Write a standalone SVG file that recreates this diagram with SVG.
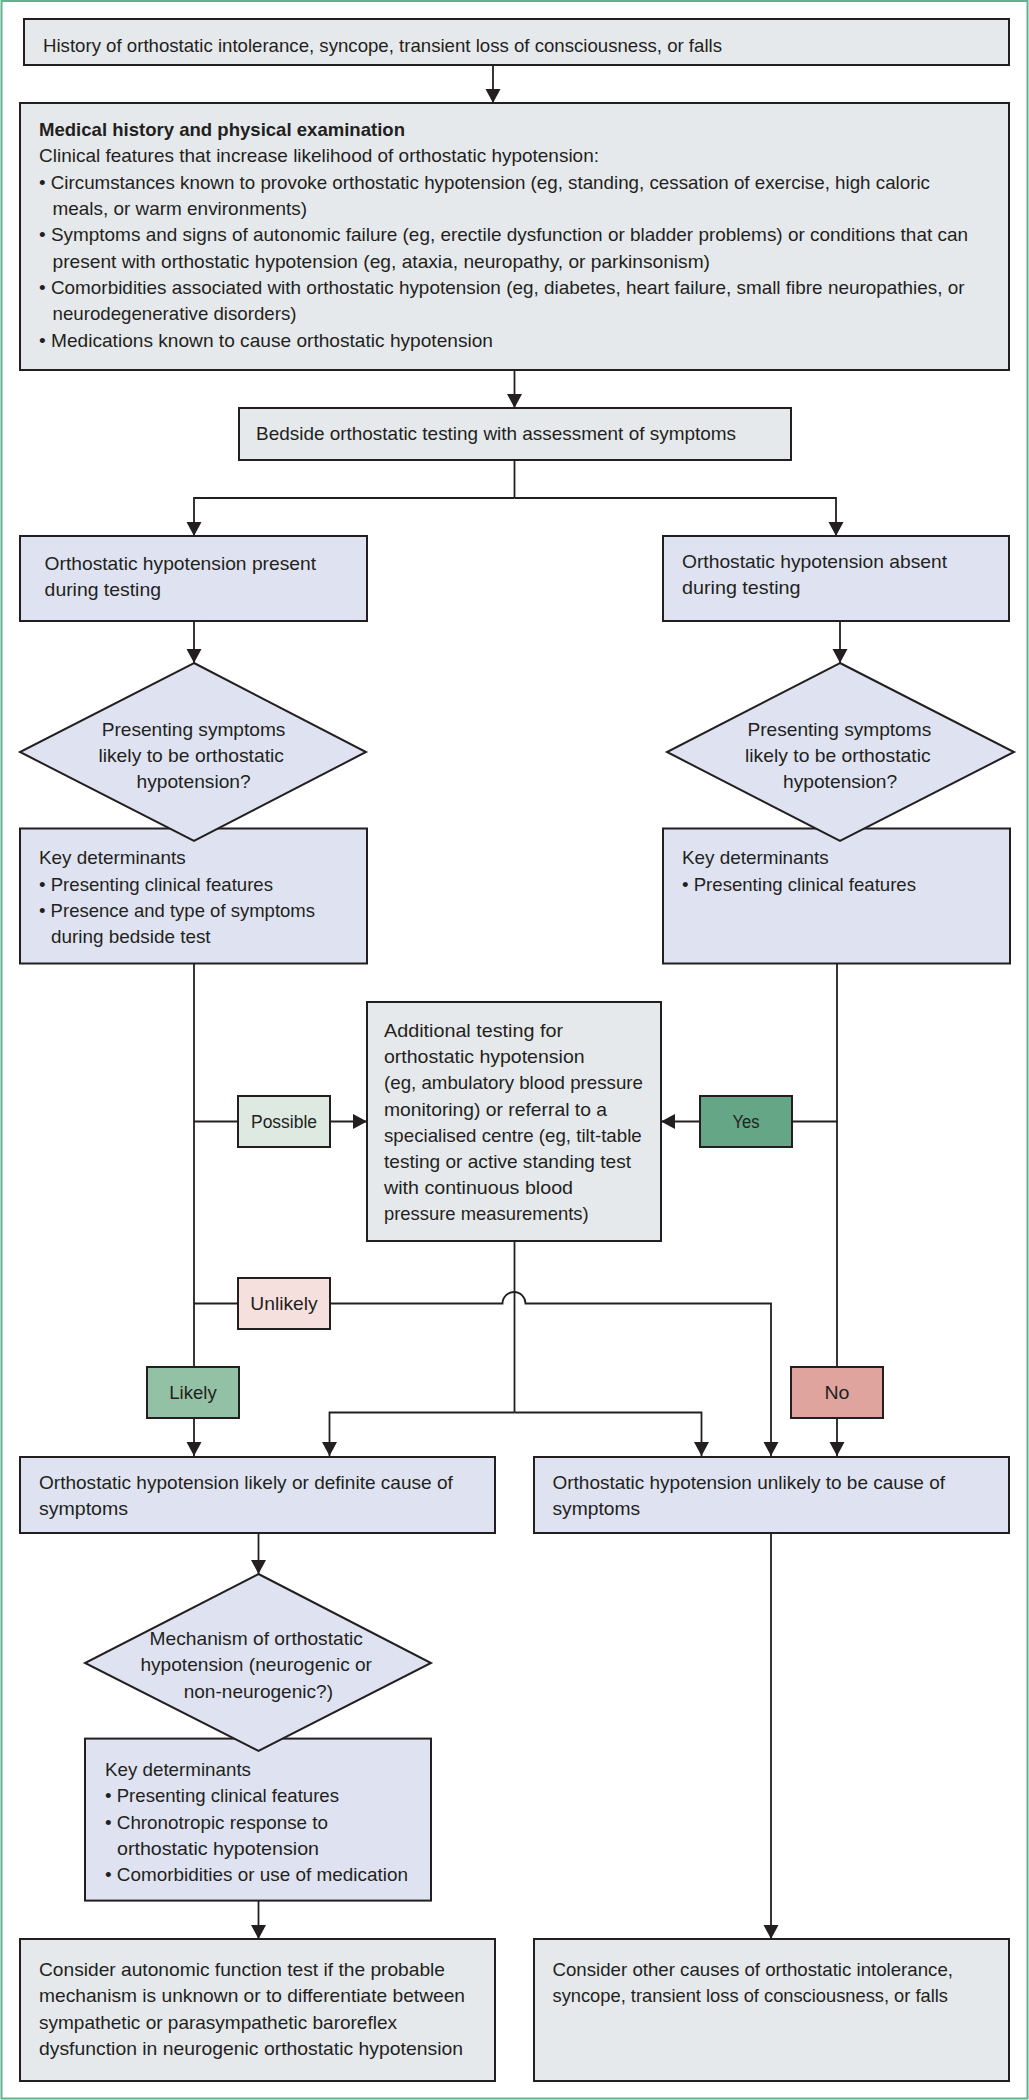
<svg xmlns="http://www.w3.org/2000/svg" width="1029" height="2100" viewBox="0 0 1029 2100">
<style>
text{font-family:"Liberation Sans",Arial,sans-serif;font-size:19px;fill:#231f20}
.b{font-weight:bold}
.m{text-anchor:middle}
.box{stroke:#231f20;stroke-width:2}
.gray{fill:#e6e9ec}
.blue{fill:#dfe3f1}
.possible{fill:#dde9e1}
.yes{fill:#65a687}
.unlikely{fill:#f6e0de}
.likely{fill:#93c1a6}
.no{fill:#dfa49e}
.c{fill:none;stroke:#231f20;stroke-width:1.8}
.a{marker-end:url(#ah)}
</style>
<defs>
<marker id="ah" markerUnits="userSpaceOnUse" markerWidth="16" markerHeight="16" viewBox="0 0 16 16" refX="14" refY="7.5" orient="auto">
<path d="M0,0 L14,7.5 L0,15 z" fill="#231f20"/>
</marker>
</defs>
<rect x="0" y="0" width="1029" height="2100" fill="#ffffff"/>
<rect x="1.5" y="1" width="1026" height="2097.5" fill="none" stroke="#63b28f" stroke-width="2"/>

<g id="n-history">
<rect class="box gray" x="24" y="19" width="985" height="46"/>
<text x="43" y="52" textLength="679" lengthAdjust="spacingAndGlyphs">History of orthostatic intolerance, syncope, transient loss of consciousness, or falls</text>
</g>

<g id="n-medical">
<rect class="box gray" x="20" y="103" width="989" height="267"/>
<text class="b" x="39" y="136" textLength="366" lengthAdjust="spacingAndGlyphs">Medical history and physical examination</text>
<text x="39" y="162.3" textLength="560" lengthAdjust="spacingAndGlyphs">Clinical features that increase likelihood of orthostatic hypotension:</text>
<text x="39" y="188.6" textLength="891" lengthAdjust="spacingAndGlyphs">• Circumstances known to provoke orthostatic hypotension (eg, standing, cessation of exercise, high caloric</text>
<text x="52.5" y="215" textLength="254.5" lengthAdjust="spacingAndGlyphs">meals, or warm environments)</text>
<text x="39" y="241.3" textLength="929" lengthAdjust="spacingAndGlyphs">• Symptoms and signs of autonomic failure (eg, erectile dysfunction or bladder problems) or conditions that can</text>
<text x="52.5" y="267.6" textLength="657.5" lengthAdjust="spacingAndGlyphs">present with orthostatic hypotension (eg, ataxia, neuropathy, or parkinsonism)</text>
<text x="39" y="294" textLength="925.6" lengthAdjust="spacingAndGlyphs">• Comorbidities associated with orthostatic hypotension (eg, diabetes, heart failure, small fibre neuropathies, or</text>
<text x="52.5" y="320.3" textLength="244" lengthAdjust="spacingAndGlyphs">neurodegenerative disorders)</text>
<text x="39" y="346.7" textLength="454" lengthAdjust="spacingAndGlyphs">• Medications known to cause orthostatic hypotension</text>
</g>

<g id="n-bedside">
<rect class="box gray" x="239" y="408" width="552" height="52"/>
<text x="256" y="439.5" textLength="480" lengthAdjust="spacingAndGlyphs">Bedside orthostatic testing with assessment of symptoms</text>
</g>

<g id="n-present">
<rect class="box blue" x="20" y="536" width="347" height="85"/>
<text x="44.6" y="570" textLength="271.4" lengthAdjust="spacingAndGlyphs">Orthostatic hypotension present</text>
<text x="44.6" y="596" textLength="116.4" lengthAdjust="spacingAndGlyphs">during testing</text>
</g>

<g id="n-absent">
<rect class="box blue" x="663" y="536" width="346" height="85"/>
<text x="682" y="568" textLength="265" lengthAdjust="spacingAndGlyphs">Orthostatic hypotension absent</text>
<text x="682" y="594" textLength="118.5" lengthAdjust="spacingAndGlyphs">during testing</text>
</g>

<g id="n-kd-left">
<rect class="box blue" x="20" y="828.5" width="347" height="135"/>
<text x="39" y="864" textLength="146.7" lengthAdjust="spacingAndGlyphs">Key determinants</text>
<text x="39" y="890.5" textLength="234" lengthAdjust="spacingAndGlyphs">• Presenting clinical features</text>
<text x="39" y="917" textLength="276" lengthAdjust="spacingAndGlyphs">• Presence and type of symptoms</text>
<text x="51" y="943" textLength="159.6" lengthAdjust="spacingAndGlyphs">during bedside test</text>
</g>

<g id="n-kd-right">
<rect class="box blue" x="663" y="828.5" width="347" height="135"/>
<text x="682" y="864" textLength="146.7" lengthAdjust="spacingAndGlyphs">Key determinants</text>
<text x="682" y="890.5" textLength="234" lengthAdjust="spacingAndGlyphs">• Presenting clinical features</text>
</g>

<g id="n-dec-left">
<polygon class="box blue" points="194,663 366,752 194,841 20,752"/>
<text x="101.7" y="736" textLength="183.7" lengthAdjust="spacingAndGlyphs">Presenting symptoms</text>
<text x="98.4" y="762" textLength="185.6" lengthAdjust="spacingAndGlyphs">likely to be orthostatic</text>
<text x="136.5" y="787.5" textLength="114.2" lengthAdjust="spacingAndGlyphs">hypotension?</text>
</g>

<g id="n-dec-right">
<polygon class="box blue" points="840,663 1014,752 840,841 667,752"/>
<text x="747.5" y="736" textLength="183.7" lengthAdjust="spacingAndGlyphs">Presenting symptoms</text>
<text x="745" y="762" textLength="185.6" lengthAdjust="spacingAndGlyphs">likely to be orthostatic</text>
<text x="783" y="787.5" textLength="114.2" lengthAdjust="spacingAndGlyphs">hypotension?</text>
</g>

<g id="n-additional">
<rect class="box gray" x="367" y="1002" width="294" height="239"/>
<text x="384" y="1037" textLength="179" lengthAdjust="spacingAndGlyphs">Additional testing for</text>
<text x="384" y="1063.2" textLength="200.6" lengthAdjust="spacingAndGlyphs">orthostatic hypotension</text>
<text x="384" y="1089.4" textLength="259" lengthAdjust="spacingAndGlyphs">(eg, ambulatory blood pressure</text>
<text x="384" y="1115.6" textLength="223" lengthAdjust="spacingAndGlyphs">monitoring) or referral to a</text>
<text x="384" y="1141.8" textLength="257.7" lengthAdjust="spacingAndGlyphs">specialised centre (eg, tilt-table</text>
<text x="384" y="1168" textLength="247" lengthAdjust="spacingAndGlyphs">testing or active standing test</text>
<text x="384" y="1194.2" textLength="189" lengthAdjust="spacingAndGlyphs">with continuous blood</text>
<text x="384" y="1220.4" textLength="204.6" lengthAdjust="spacingAndGlyphs">pressure measurements)</text>
</g>

<g id="l-possible">
<rect class="box possible" x="238" y="1096" width="92" height="51"/>
<text class="m" x="284" y="1127.5" textLength="66" lengthAdjust="spacingAndGlyphs">Possible</text>
</g>
<g id="l-yes">
<rect class="box yes" x="700" y="1096" width="92" height="51"/>
<text class="m" x="746" y="1127.5" textLength="27" lengthAdjust="spacingAndGlyphs">Yes</text>
</g>
<g id="l-unlikely">
<rect class="box unlikely" x="238" y="1278" width="92" height="51"/>
<text class="m" x="284" y="1310" textLength="67.4" lengthAdjust="spacingAndGlyphs">Unlikely</text>
</g>
<g id="l-likely">
<rect class="box likely" x="147" y="1367" width="92" height="51"/>
<text class="m" x="193" y="1399" textLength="47.5" lengthAdjust="spacingAndGlyphs">Likely</text>
</g>
<g id="l-no">
<rect class="box no" x="791" y="1367" width="92" height="51"/>
<text class="m" x="837" y="1399" textLength="25" lengthAdjust="spacingAndGlyphs">No</text>
</g>

<g id="n-likely-cause">
<rect class="box blue" x="20" y="1457" width="475" height="76"/>
<text x="39" y="1489" textLength="413.8" lengthAdjust="spacingAndGlyphs">Orthostatic hypotension likely or definite cause of</text>
<text x="39" y="1515" textLength="89" lengthAdjust="spacingAndGlyphs">symptoms</text>
</g>

<g id="n-unlikely-cause">
<rect class="box blue" x="534" y="1457" width="475" height="76"/>
<text x="552.5" y="1489" textLength="392.5" lengthAdjust="spacingAndGlyphs">Orthostatic hypotension unlikely to be cause of</text>
<text x="552.5" y="1515" textLength="87.5" lengthAdjust="spacingAndGlyphs">symptoms</text>
</g>

<g id="n-kd-mech">
<rect class="box blue" x="85" y="1738.6" width="346" height="162"/>
<text x="105" y="1776" textLength="146" lengthAdjust="spacingAndGlyphs">Key determinants</text>
<text x="105" y="1802" textLength="234" lengthAdjust="spacingAndGlyphs">• Presenting clinical features</text>
<text x="105" y="1828.6" textLength="223" lengthAdjust="spacingAndGlyphs">• Chronotropic response to</text>
<text x="117" y="1854.5" textLength="202" lengthAdjust="spacingAndGlyphs">orthostatic hypotension</text>
<text x="105" y="1881" textLength="303" lengthAdjust="spacingAndGlyphs">• Comorbidities or use of medication</text>
</g>

<g id="n-dec-mech">
<polygon class="box blue" points="258.5,1574 431,1663 258.5,1751 85,1663"/>
<text x="149.6" y="1645" textLength="213.3" lengthAdjust="spacingAndGlyphs">Mechanism of orthostatic</text>
<text x="140.4" y="1671" textLength="231.6" lengthAdjust="spacingAndGlyphs">hypotension (neurogenic or</text>
<text x="183.7" y="1698" textLength="149.3" lengthAdjust="spacingAndGlyphs">non-neurogenic?)</text>
</g>

<g id="n-autonomic">
<rect class="box gray" x="20" y="1939" width="475" height="142"/>
<text x="39" y="1976" textLength="406" lengthAdjust="spacingAndGlyphs">Consider autonomic function test if the probable</text>
<text x="39" y="2002" textLength="426" lengthAdjust="spacingAndGlyphs">mechanism is unknown or to differentiate between</text>
<text x="39" y="2028.6" textLength="358" lengthAdjust="spacingAndGlyphs">sympathetic or parasympathetic baroreflex</text>
<text x="39" y="2054.5" textLength="424" lengthAdjust="spacingAndGlyphs">dysfunction in neurogenic orthostatic hypotension</text>
</g>

<g id="n-other">
<rect class="box gray" x="534" y="1939" width="475" height="142"/>
<text x="552.5" y="1976" textLength="400.5" lengthAdjust="spacingAndGlyphs">Consider other causes of orthostatic intolerance,</text>
<text x="552.5" y="2002" textLength="395.5" lengthAdjust="spacingAndGlyphs">syncope, transient loss of consciousness, or falls</text>
</g>

<g id="connectors">
<path class="c a" d="M493,65 V103"/>
<path class="c a" d="M514.5,370 V408"/>
<path class="c" d="M514.5,460 V498"/>
<path class="c a" d="M514.5,498 H194 V536"/>
<path class="c a" d="M514.5,498 H836 V536"/>
<path class="c a" d="M194,621 V663"/>
<path class="c a" d="M840,621 V663"/>
<path class="c" d="M194,963.5 V1367"/>
<path class="c a" d="M194,1418 V1456"/>
<path class="c" d="M194,1121.5 H238"/>
<path class="c a" d="M330,1121.5 H367"/>
<path class="c" d="M194,1303.5 H238"/>
<path class="c a" d="M330,1303.5 H502.5 A11.5,11.5 0 0 1 525.5,1303.5 H771 V1456"/>
<path class="c" d="M837,963.5 V1367"/>
<path class="c a" d="M837,1418 V1456"/>
<path class="c" d="M837,1121.5 H792"/>
<path class="c a" d="M700,1121.5 H661"/>
<path class="c" d="M514.5,1241 V1412.5"/>
<path class="c a" d="M514.5,1412.5 H329.5 V1456"/>
<path class="c a" d="M514.5,1412.5 H701.5 V1456"/>
<path class="c a" d="M258.5,1533 V1574"/>
<path class="c a" d="M258.5,1901 V1939"/>
<path class="c a" d="M771,1533 V1939"/>
</g>
</svg>
